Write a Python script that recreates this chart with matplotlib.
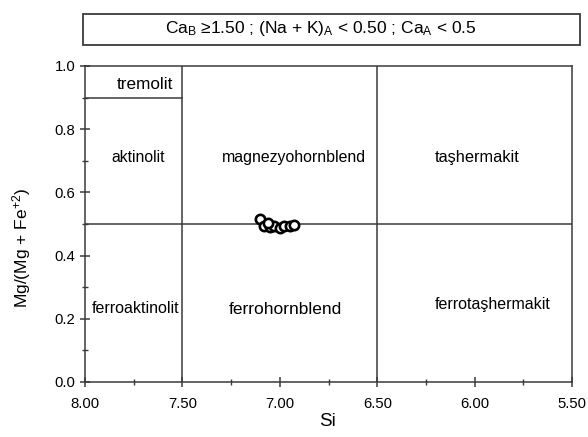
import matplotlib.pyplot as plt
from matplotlib.ticker import MultipleLocator
from matplotlib.patches import Rectangle

plt.rcParams["font.family"] = ["Liberation Sans", "DejaVu Sans"]
plt.rcParams["mathtext.fontset"] = "custom"
plt.rcParams["mathtext.rm"] = "Liberation Sans"
plt.rcParams["mathtext.it"] = "Liberation Sans:italic"

# Ölçülen amfibol analizleri (Si, Mg/(Mg+Fe+2))
si = [7.10, 7.08, 7.05, 7.03, 7.00, 6.98, 6.95, 6.93, 7.06]
mg_oran = [0.515, 0.495, 0.490, 0.495, 0.488, 0.495, 0.492, 0.496, 0.502]

# Sınıflandırma sınırları
si_sinirlar = [7.50, 6.50]
mg_sinir = 0.50
tremolit_sinir = 0.90

# Alan adları
alan_adlari = ["tremolit", "aktinolit", "magnezyohornblend", "taşhermakit",
               "ferroaktinolit", "ferrohornblend", "ferrotaşhermakit"]
alan_x = [7.69, 7.73, 6.93, 5.99, 7.74, 6.97, 5.91]
alan_y = [0.94, 0.709, 0.709, 0.709, 0.234, 0.228, 0.244]
alan_boyut = [12.3, 11.3, 11.4, 11.8, 11.5, 12.5, 11.5]

cizgi = "#3a3a3a"

fig = plt.figure(figsize=(5.88, 4.37), dpi=100)
ax = fig.add_axes([0.1446, 0.126, 0.8284, 0.723])

ax.set_xlim(8.0, 5.5)
ax.set_ylim(0.0, 1.0)

for x in si_sinirlar:
    ax.axvline(x, color=cizgi, lw=1.1)
ax.axhline(mg_sinir, color=cizgi, lw=1.1)
ax.plot([8.0, 7.5], [tremolit_sinir, tremolit_sinir], color=cizgi, lw=1.1)

ax.scatter(si, mg_oran, s=45, facecolors="white", edgecolors="black",
           linewidths=1.9, zorder=5)

for ad, x, y, b in zip(alan_adlari, alan_x, alan_y, alan_boyut):
    ax.text(x, y, ad, ha="center", va="center", fontsize=b)

ax.xaxis.set_major_locator(MultipleLocator(0.5))
ax.xaxis.set_minor_locator(MultipleLocator(0.25))
ax.yaxis.set_major_locator(MultipleLocator(0.2))
ax.yaxis.set_minor_locator(MultipleLocator(0.1))
ax.xaxis.set_major_formatter(plt.FormatStrFormatter("%.2f"))
ax.yaxis.set_major_formatter(plt.FormatStrFormatter("%.1f"))
ax.tick_params(which="both", direction="inout", color=cizgi, labelsize=10.7)
ax.tick_params(which="major", length=7, width=1.1)
ax.tick_params(which="minor", length=4, width=1)
ax.tick_params(axis="x", pad=7)

for s in ax.spines.values():
    s.set_color(cizgi)
    s.set_linewidth(1.1)

ax.set_xlabel("Si", fontsize=13.5)
ax.xaxis.set_label_coords(0.497, -0.098)
ax.set_ylabel("Mg/(Mg + Fe$^{+2}$)", fontsize=12.5)
ax.yaxis.set_label_coords(-0.107, 0.424)

# Üst bilgi kutusu
fig.patches.append(Rectangle((0.141, 0.897), 0.845, 0.071, transform=fig.transFigure,
                             facecolor="white", edgecolor=cizgi, lw=1.3))
fig.text(0.545, 0.934,
         "Ca$_\\mathregular{B}$ \u22651.50 ; (Na + K)$_\\mathregular{A}$ < 0.50 ; Ca$_\\mathregular{A}$ < 0.5",
         ha="center", va="center", fontsize=12.5)

fig.savefig("out.png", dpi=100)
